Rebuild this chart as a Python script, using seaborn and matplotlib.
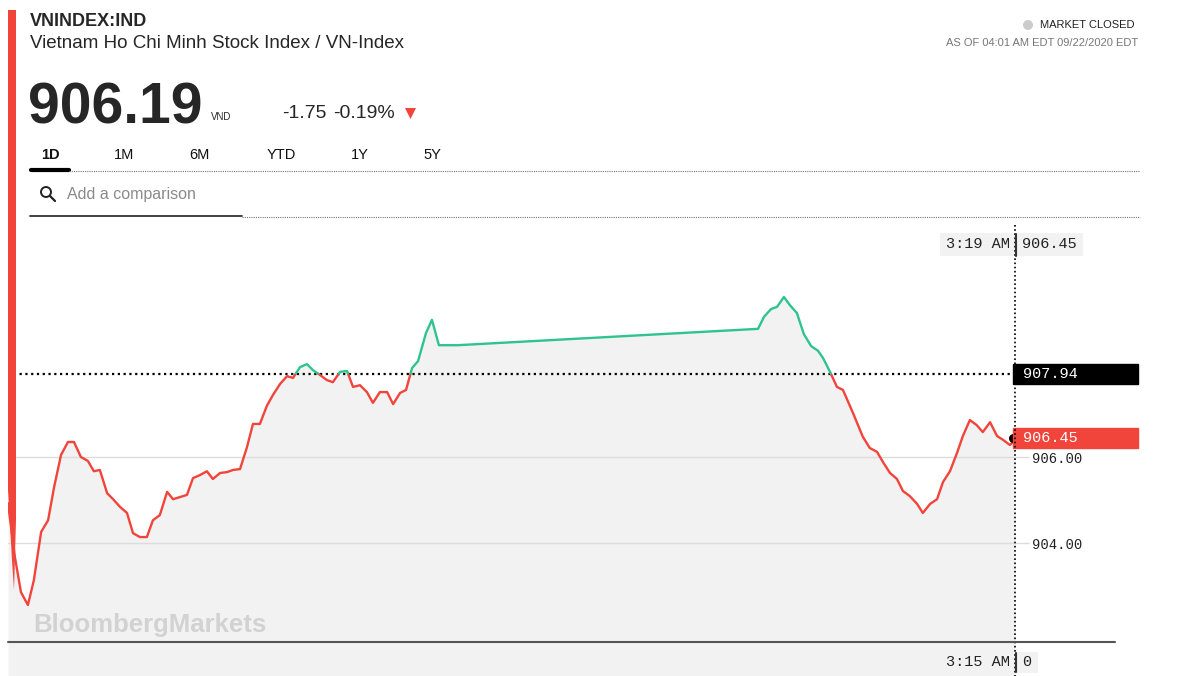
# VN-Index intraday chart (Bloomberg style snapshot)

import numpy as np
import pandas as pd
import seaborn as sns
import matplotlib.pyplot as plt
import matplotlib.transforms as mtransforms
from matplotlib.patches import Rectangle, Polygon, Circle
from matplotlib.lines import Line2D

# Intraday data, minutes since the session open
minutes = [0, 2.2, 4.1, 6.3, 8.2, 10.5, 12.7, 14.6, 16.8, 19.0, 20.9, 23.1, 25.3, 27.2,
           29.1, 31.4, 33.3, 35.5, 37.7, 39.6, 41.8, 44.0, 45.9, 48.1, 50.4, 52.3, 54.5,
           56.7, 58.6, 60.8, 63.0, 64.9, 67.2, 69.4, 71.3, 73.5, 75.7, 77.6, 79.8, 82.0,
           83.9, 86.2, 88.4, 90.3, 92.5, 94.7, 96.6, 98.8, 101.0, 102.9, 105.2, 107.4,
           109.3, 111.5, 113.7, 115.6, 117.8, 120.1, 122.0, 124.2, 126.1, 128.0, 129.9,
           132.4, 134.3, 136.5, 142.5, 237.6, 239.5, 241.7, 243.6, 245.8, 247.7, 249.9,
           252.1, 254.4, 256.6, 258.2, 260.4, 262.6, 264.5, 267.7, 270.8, 273.0, 275.3,
           277.2, 279.4, 281.6, 283.5, 285.7, 288.0, 289.8, 292.1, 294.3, 296.2, 298.4,
           300.6, 302.5, 304.7, 306.9, 308.8, 311.1, 313.3, 315.2, 317.4, 319.0]
index_value = [904.93, 903.67, 902.86, 902.56, 903.14, 904.26, 904.53, 905.30, 906.05,
               906.35, 906.35, 906.00, 905.91, 905.67, 905.70, 905.16, 905.02, 904.84,
               904.70, 904.23, 904.14, 904.14, 904.53, 904.65, 905.19, 905.02, 905.07,
               905.12, 905.51, 905.58, 905.67, 905.49, 905.63, 905.65, 905.70, 905.72,
               906.23, 906.77, 906.77, 907.19, 907.44, 907.70, 907.88, 907.84, 908.09,
               908.16, 908.02, 907.91, 907.79, 907.74, 907.98, 908.00, 907.63, 907.67,
               907.51, 907.26, 907.51, 907.51, 907.23, 907.49, 907.56, 908.07, 908.23,
               908.88, 909.19, 908.60, 908.60, 908.98, 909.26, 909.44, 909.49, 909.72,
               909.53, 909.35, 908.86, 908.58, 908.47, 908.30, 907.98, 907.63, 907.56,
               907.02, 906.47, 906.21, 906.12, 905.88, 905.63, 905.49, 905.21, 905.09,
               904.91, 904.70, 904.91, 905.02, 905.42, 905.67, 906.09, 906.49, 906.86,
               906.74, 906.58, 906.81, 906.49, 906.40, 906.28, 906.40]

prev_close = 907.94
last_price = "906.19"
hover_price = 906.45
y_ticks = [904, 906]
tabs = ["1D", "1M", "6M", "YTD", "1Y", "5Y"]
tab_x = [50, 124, 199, 281, 360, 432]

RED = "#f1443b"
GREEN = "#2fc48d"
FILL = "#f2f2f2"

# split the line into runs above / below previous close
xs, ys, side, seg = [], [], [], []
s = 0
for i in range(len(minutes)):
    cur = "up" if index_value[i] >= prev_close else "down"
    if i > 0:
        prev = "up" if index_value[i - 1] >= prev_close else "down"
        if prev != cur:
            x0, x1 = minutes[i - 1], minutes[i]
            v0, v1 = index_value[i - 1], index_value[i]
            xc = x0 + (prev_close - v0) / (v1 - v0) * (x1 - x0)
            xs.append(xc); ys.append(prev_close); side.append(prev); seg.append(s)
            s += 1
            xs.append(xc); ys.append(prev_close); side.append(cur); seg.append(s)
    xs.append(minutes[i]); ys.append(index_value[i]); side.append(cur); seg.append(s)
line_df = pd.DataFrame({"minute": xs, "value": ys, "side": side, "seg": seg})

sns.set_style("white")
plt.rcParams["font.family"] = ["Liberation Sans", "DejaVu Sans"]

W, H = 1200, 676
fig = plt.figure(figsize=(12, 6.76), dpi=100)
pix = mtransforms.Affine2D().scale(1 / W, -1 / H).translate(0, 1) + fig.transFigure

# main axes: pixel box x 8..1015, y 217..676
ax = fig.add_axes([8 / W, 0, (1015 - 8) / W, (676 - 217) / H])
ax.patch.set_alpha(0)
y_bottom, y_top = 900.91, 911.58
ax.set_xlim(0, 319)
ax.set_ylim(y_bottom, y_top)

ax.fill_between(minutes, index_value, y_bottom, color=FILL, lw=0, zorder=1)
for t in y_ticks:
    ax.axhline(t, color="#dcdcdc", lw=1, zorder=2)
ax.axhline(prev_close, color="black", lw=1.6, ls=(0, (1, 1.6)), zorder=3)
sns.lineplot(data=line_df, x="minute", y="value", hue="side", units="seg",
             estimator=None, sort=False, palette={"up": GREEN, "down": RED},
             legend=False, lw=1.7, ax=ax, zorder=4)

for sp in ax.spines.values():
    sp.set_visible(False)
ax.set_xticks([])
ax.set_xlabel("")
ax.set_ylabel("")
ax.yaxis.tick_right()
ax.set_yticks(y_ticks)
ax.set_yticklabels([f"{t:.2f}" for t in y_ticks], family="Liberation Mono",
                   fontsize=10, color="#222222")
ax.tick_params(axis="y", length=10, width=1, color="#dcdcdc", pad=2)

# price tags on the right
tb = mtransforms.blended_transform_factory(ax.transAxes, ax.transData)
bx0 = (1013 - 8) / 1007
bw = 125 / 1007
bh = 20 / 43
for val, txt, col in [(prev_close, "907.94", "black"), (hover_price, "906.45", RED)]:
    ax.add_patch(Rectangle((bx0, val - bh / 2), bw, bh, transform=tb,
                           color=col, clip_on=False, zorder=6))
    ax.text((1023 - 8) / 1007, val, txt, transform=tb, color="white",
            family="Liberation Mono", fontsize=11, va="center", ha="left", zorder=7)
ax.scatter([minutes[-1] - 0.6], [hover_price], s=30, color="black", zorder=5,
           clip_on=False)

# cursor line, bottom axis line
fig.add_artist(Line2D([1015, 1015], [225, 676], transform=pix, color="black",
                      lw=1.2, ls=(0, (1, 1.5))))
fig.add_artist(Line2D([8, 1115], [642, 642], transform=pix, color="#555555", lw=1.5))

# hover labels
for x0, w, y0, h, txt, xt in [(940, 75, 233, 23, "3:19 AM", 946),
                              (1016, 67, 233, 23, "906.45", 1022),
                              (940, 75, 652, 21, "3:15 AM", 946),
                              (1016, 22, 652, 21, "0", 1022)]:
    fig.add_artist(Rectangle((x0, y0), w, h, transform=pix, color="#f2f2f2", lw=0))
    fig.text(xt, y0 + h / 2, txt, transform=pix, family="Liberation Mono",
             fontsize=11, va="center", ha="left", color="#222222")
fig.add_artist(Line2D([1016, 1016], [234, 256], transform=pix, color="#333333", lw=1.5))
fig.add_artist(Line2D([1016, 1016], [653, 672], transform=pix, color="#333333", lw=1.5))

fig.text(33, 625, "BloombergMarkets", transform=pix, fontsize=18.5, weight="bold",
         color="#d2d2d2", va="center", ha="left")

# left red accent bar
fig.add_artist(Polygon([(8, 10), (16, 10), (16, 520), (14, 590), (12, 560), (8, 490)],
                       closed=True, transform=pix, color=RED, lw=0))

# header
fig.text(30, 21, "VNINDEX:IND", transform=pix, fontsize=13, weight="bold", va="center")
fig.text(30, 43, "Vietnam Ho Chi Minh Stock Index / VN-Index", transform=pix,
         fontsize=13.5, va="center")
fig.text(28, 123, last_price, transform=pix, fontsize=41, weight="bold", va="baseline")
fig.text(211, 117, "VND", transform=pix, fontsize=7, va="center")
fig.text(282, 114, "-1.75", transform=pix, fontsize=14, va="center")
fig.text(333, 114, "-0.19%", transform=pix, fontsize=14, va="center")
fig.add_artist(Polygon([(405, 108), (416, 108), (410.5, 119)], closed=True,
                       transform=pix, color=RED, lw=0))

for t, x in zip(tabs, tab_x):
    fig.text(x, 155, t, transform=pix, fontsize=10.5, ha="center", va="center",
             weight="bold" if t == "1D" else "normal", color="#111111")
fig.add_artist(Line2D([31, 69], [170, 170], transform=pix, color="black", lw=3))
fig.add_artist(Line2D([69, 1140], [171, 171], transform=pix, color="#777777",
                      lw=0.8, ls=(0, (1, 1))))

fig.add_artist(Circle((46, 192), 5, transform=pix, fill=False, ec="#222222", lw=1.4))
fig.add_artist(Line2D([50, 55], [196, 201], transform=pix, color="#222222", lw=1.6))
fig.text(67, 194, "Add a comparison", transform=pix, fontsize=11.5, va="center",
         color="#8a8a8a")
fig.add_artist(Line2D([30, 242], [216, 216], transform=pix, color="#333333", lw=1.3))
fig.add_artist(Line2D([242, 1140], [217, 217], transform=pix, color="#777777",
                      lw=0.8, ls=(0, (1, 1))))

fig.add_artist(Circle((1028, 25), 5, transform=pix, color="#cccccc", lw=0))
fig.text(1040, 25, "MARKET CLOSED", transform=pix, fontsize=8, va="center",
         color="#222222")
fig.text(1138, 43, "AS OF 04:01 AM EDT 09/22/2020 EDT", transform=pix, fontsize=8,
         va="center", ha="right", color="#777777")

fig.savefig("out.png", dpi=100)
